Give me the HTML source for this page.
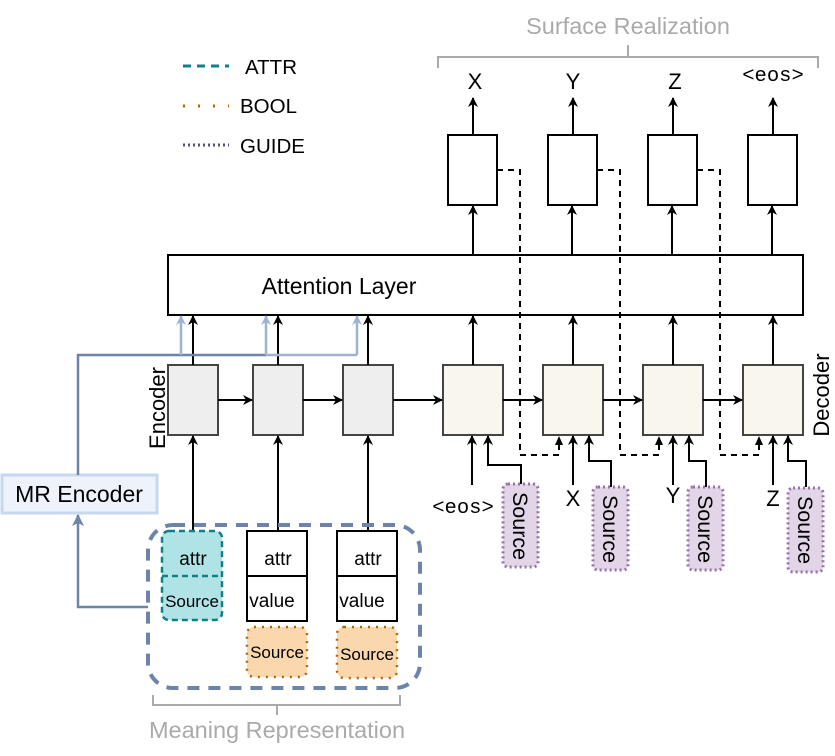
<!DOCTYPE html>
<html><head><meta charset="utf-8"><style>
html,body{margin:0;padding:0;background:#fff;}
svg{display:block;font-family:"Liberation Sans",sans-serif;}
</style></head><body>
<svg width="835" height="756" viewBox="0 0 835 756" xmlns="http://www.w3.org/2000/svg">
<defs>
<marker id="a" markerWidth="10" markerHeight="10" refX="9" refY="5" orient="auto" markerUnits="userSpaceOnUse"><path d="M0,0 L10,5 L0,10 L3,5 z" fill="#000"/></marker>
<marker id="ab" markerWidth="10" markerHeight="10" refX="9" refY="5" orient="auto" markerUnits="userSpaceOnUse"><path d="M0,0 L10,5 L0,10 L3,5 z" fill="#9fb3d1"/></marker>
<marker id="ad" markerWidth="12" markerHeight="12" refX="11" refY="6" orient="auto" markerUnits="userSpaceOnUse"><path d="M0,0 L12,6 L0,12 L3,6 z" fill="#6c84aa"/></marker>
</defs>
<!-- legend -->
<line x1="183" y1="66" x2="229" y2="66" stroke="#0e8088" stroke-width="3" stroke-dasharray="8,6"/>
<line x1="183" y1="106" x2="229" y2="106" stroke="#b46504" stroke-width="3" stroke-dasharray="2,13"/>
<line x1="183" y1="145" x2="229" y2="145" stroke="#56517e" stroke-width="3" stroke-dasharray="2,3"/>
<text x="245" y="74" font-size="20.5">ATTR</text>
<text x="240" y="113" font-size="20.5">BOOL</text>
<text x="240" y="153" font-size="20.5">GUIDE</text>
<!-- surface realization -->
<text x="628" y="34" font-size="23.5" fill="#aaa" text-anchor="middle">Surface Realization</text>
<path d="M438,68 V57 H818 V68 M628,45 V57" fill="none" stroke="#aaa" stroke-width="2"/>
<text x="475" y="89" font-size="22" text-anchor="middle">X</text>
<text x="573" y="89" font-size="22" text-anchor="middle">Y</text>
<text x="675" y="89" font-size="22" text-anchor="middle">Z</text>
<text x="773" y="81" font-size="20.5" text-anchor="middle" font-family="Liberation Mono,monospace">&lt;eos&gt;</text>
<!-- top boxes -->
<g fill="#fff" stroke="#000" stroke-width="2">
<rect x="448" y="135" width="49" height="70"/><rect x="548" y="135" width="49" height="70"/>
<rect x="648" y="135" width="49" height="70"/><rect x="748" y="135" width="49" height="70"/>
</g>
<g stroke="#000" stroke-width="2" marker-end="url(#a)">
<line x1="473" y1="135" x2="473" y2="98"/><line x1="573" y1="135" x2="573" y2="98"/>
<line x1="673" y1="135" x2="673" y2="98"/><line x1="773" y1="135" x2="773" y2="98"/>
<line x1="473" y1="255" x2="473" y2="206"/><line x1="572" y1="255" x2="572" y2="206"/>
<line x1="672" y1="255" x2="672" y2="206"/><line x1="772" y1="255" x2="772" y2="206"/>
</g>
<!-- attention -->
<rect x="168" y="255" width="635" height="60" fill="#fff" stroke="#000" stroke-width="2"/>
<text x="339" y="294" font-size="23" text-anchor="middle">Attention Layer</text>
<!-- dashed guide lines -->
<g fill="none" stroke="#000" stroke-width="2" stroke-dasharray="6,5">
<path d="M497,170 H520 V455 H559 V440"/>
<path d="M597,170 H620 V455 H659 V440"/>
<path d="M697,170 H720 V455 H759 V440"/>
</g>
<g fill="#000"><path d="M559,436 l-4,9 h8z"/><path d="M659,436 l-4,9 h8z"/><path d="M759,436 l-4,9 h8z"/></g>
<!-- decoder boxes -->
<g fill="#f9f7ed" stroke="#444" stroke-width="2">
<rect x="443" y="365" width="60" height="70"/><rect x="543" y="365" width="60" height="70"/>
<rect x="643" y="365" width="60" height="70"/><rect x="743" y="365" width="60" height="70"/>
</g>
<!-- encoder boxes -->
<g fill="#eee" stroke="#444" stroke-width="2">
<rect x="168" y="365" width="50" height="70"/><rect x="253" y="365" width="50" height="70"/><rect x="343" y="365" width="50" height="70"/>
</g>
<text transform="translate(165,408) rotate(-90)" font-size="22" text-anchor="middle">Encoder</text>
<text transform="translate(829,395) rotate(-90)" font-size="22" text-anchor="middle">Decoder</text>
<g stroke="#000" stroke-width="2" fill="none" marker-end="url(#a)">
<line x1="218" y1="400" x2="252" y2="400"/><line x1="303" y1="400" x2="342" y2="400"/>
<line x1="393" y1="400" x2="442" y2="400"/><line x1="503" y1="400" x2="542" y2="400"/>
<line x1="603" y1="400" x2="642" y2="400"/><line x1="703" y1="400" x2="742" y2="400"/>
<line x1="193" y1="365" x2="193" y2="316"/><line x1="278" y1="365" x2="278" y2="316"/><line x1="368" y1="365" x2="368" y2="316"/>
<line x1="473" y1="365" x2="473" y2="316"/><line x1="573" y1="365" x2="573" y2="316"/>
<line x1="673" y1="365" x2="673" y2="316"/><line x1="773" y1="365" x2="773" y2="316"/>
<line x1="193" y1="531" x2="193" y2="436"/><line x1="278" y1="531" x2="278" y2="436"/><line x1="368" y1="531" x2="368" y2="436"/>
<line x1="472" y1="485" x2="472" y2="436"/><path d="M521,485 V465 H488 V436"/>
<line x1="573" y1="485" x2="573" y2="436"/><path d="M611,487 V461 H589 V436"/>
<line x1="673" y1="485" x2="673" y2="436"/><path d="M706,487 V461 H689 V436"/>
<line x1="773" y1="485" x2="773" y2="436"/><path d="M806,487 V461 H788 V436"/>
</g>
<!-- decoder input labels -->
<text x="463" y="513" font-size="20.5" text-anchor="middle" font-family="Liberation Mono,monospace">&lt;eos&gt;</text>
<text x="573" y="506" font-size="22" text-anchor="middle">X</text>
<text x="673" y="503" font-size="22" text-anchor="middle">Y</text>
<text x="773" y="506" font-size="22" text-anchor="middle">Z</text>
<g fill="#e1d5e7" stroke="#9673a6" stroke-width="3" stroke-dasharray="2,3">
<rect x="503" y="484" width="35" height="83" rx="5"/><rect x="593" y="487" width="35" height="83" rx="5"/>
<rect x="688" y="487" width="35" height="83" rx="5"/><rect x="788" y="488" width="35" height="84" rx="5"/>
</g>
<g font-size="21.5">
<text transform="translate(513,526) rotate(90)" text-anchor="middle">Source</text>
<text transform="translate(603,529) rotate(90)" text-anchor="middle">Source</text>
<text transform="translate(698,529) rotate(90)" text-anchor="middle">Source</text>
<text transform="translate(798,530) rotate(90)" text-anchor="middle">Source</text>
</g>
<!-- MR encoder -->
<rect x="2" y="475" width="155" height="38" fill="#eef3fb" stroke="#c6d8ee" stroke-width="3"/>
<text x="79" y="502" font-size="23" text-anchor="middle">MR Encoder</text>
<path d="M78,475 V355 H266" fill="none" stroke="#6c84aa" stroke-width="2.5"/>
<path d="M266,355 H357" fill="none" stroke="#9fb3d1" stroke-width="2.5"/>
<g stroke="#9fb3d1" stroke-width="2.5" marker-end="url(#ab)">
<line x1="181" y1="355" x2="181" y2="316"/><line x1="266" y1="355" x2="266" y2="316"/><line x1="357" y1="355" x2="357" y2="316"/>
</g>
<path d="M148,607 H78 V515" fill="none" stroke="#6c84aa" stroke-width="2.5" marker-end="url(#ad)"/>
<!-- MR group -->
<rect x="148" y="525" width="272" height="163" rx="25" fill="none" stroke="#6c84aa" stroke-width="4" stroke-dasharray="12,9"/>
<rect x="162" y="531" width="60" height="89" rx="7" fill="#b0e3e6" stroke="#0e8088" stroke-width="2.5" stroke-dasharray="6,4"/>
<line x1="162" y1="576" x2="222" y2="576" stroke="#0e8088" stroke-width="2.5" stroke-dasharray="6,4"/>
<g fill="#fff" stroke="#000" stroke-width="2">
<rect x="247" y="531" width="60" height="90"/><line x1="247" y1="576" x2="307" y2="576"/>
<rect x="337" y="531" width="60" height="90"/><line x1="337" y1="576" x2="397" y2="576"/>
</g>
<g fill="#fad7ac" stroke="#b46504" stroke-width="2.5" stroke-dasharray="2,6">
<rect x="247" y="627" width="60" height="50" rx="7"/><rect x="337" y="627" width="60" height="51" rx="7"/>
</g>
<g font-size="19" text-anchor="middle">
<text x="193" y="565">attr</text><text x="192" y="607" font-size="17">Source</text>
<text x="278" y="565">attr</text><text x="272" y="607">value</text>
<text x="368" y="565">attr</text><text x="362" y="607">value</text>
<text x="277" y="658" font-size="17">Source</text><text x="367" y="660" font-size="17">Source</text>
</g>
<path d="M153,695 V705 H400 V695 M277,705 V715" fill="none" stroke="#aaa" stroke-width="2"/>
<text x="277" y="738" font-size="23.5" fill="#aaa" text-anchor="middle">Meaning Representation</text>
</svg>
</body></html>
